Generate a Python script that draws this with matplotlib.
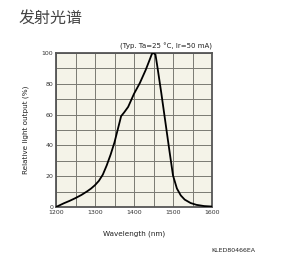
import numpy as np
import matplotlib
matplotlib.use("Agg")
import matplotlib.pyplot as plt

# spectrum
wavelength = [1200, 1210, 1220, 1235, 1250, 1265, 1280, 1290, 1300, 1310, 1320,
              1330, 1340, 1350, 1360, 1367, 1375, 1385, 1400, 1415, 1430,
              1440, 1446, 1450, 1455, 1460, 1470, 1480, 1490, 1500, 1510,
              1520, 1530, 1545, 1560, 1580, 1600]
rel_output = [0, 1.2, 2.4, 4.0, 5.8, 7.8, 10.2, 12.0, 14.2, 17.0, 21.0,
              27.0, 34.0, 42.0, 52.0, 59.0, 61.5, 65.0, 73.5, 80.5, 89.0,
              95.5, 99.5, 100, 99.0, 91.0, 74.0, 56.0, 38.0, 20.5, 12.0,
              7.5, 4.8, 2.6, 1.4, 0.6, 0.3]

x_ticks = [1200, 1300, 1400, 1500, 1600]
y_ticks = [0, 20, 40, 60, 80, 100]

fig = plt.figure(figsize=(3.0, 2.69), dpi=100)
ax = fig.add_axes([56 / 300, 1 - 207 / 269, 156 / 300, 154 / 269])
ax.set_facecolor("#f4f3e8")

ax.plot(wavelength, rel_output, color="black", linewidth=1.3, zorder=3)

ax.set_xlim(1200, 1600)
ax.set_ylim(0, 100)
ax.set_xticks(x_ticks)
ax.set_yticks(y_ticks)
ax.set_xticks(np.arange(1200, 1601, 50), minor=True)
ax.set_yticks(np.arange(0, 101, 10), minor=True)
ax.grid(which="both", color="#7a7a72", linewidth=0.7)
ax.tick_params(which="both", length=0, labelsize=4.5, colors="#333333", pad=2)

for s in ax.spines.values():
    s.set_color("#555555")
    s.set_linewidth(1.3)

ax.set_xlabel("Wavelength (nm)", fontsize=5.2, color="#222222", labelpad=11)
ax.set_ylabel("Relative light output (%)", fontsize=5.2, color="#222222", labelpad=9)

ax.text(1.0, 1.02, "(Typ. Ta=25 °C, Ir=50 mA)", transform=ax.transAxes,
        ha="right", va="bottom", fontsize=5, color="#222222")

fig.text(19 / 300, 1 - 18 / 269, "发射光谱", fontsize=11.5, color="#444444",
         family=["Noto Sans CJK SC", "DejaVu Sans"], ha="left", va="center")
fig.text(255 / 300, 1 - 250 / 269, "KLED80466EA", fontsize=4.5, color="#222222",
         ha="right", va="center")

fig.savefig("out.png", dpi=100)
